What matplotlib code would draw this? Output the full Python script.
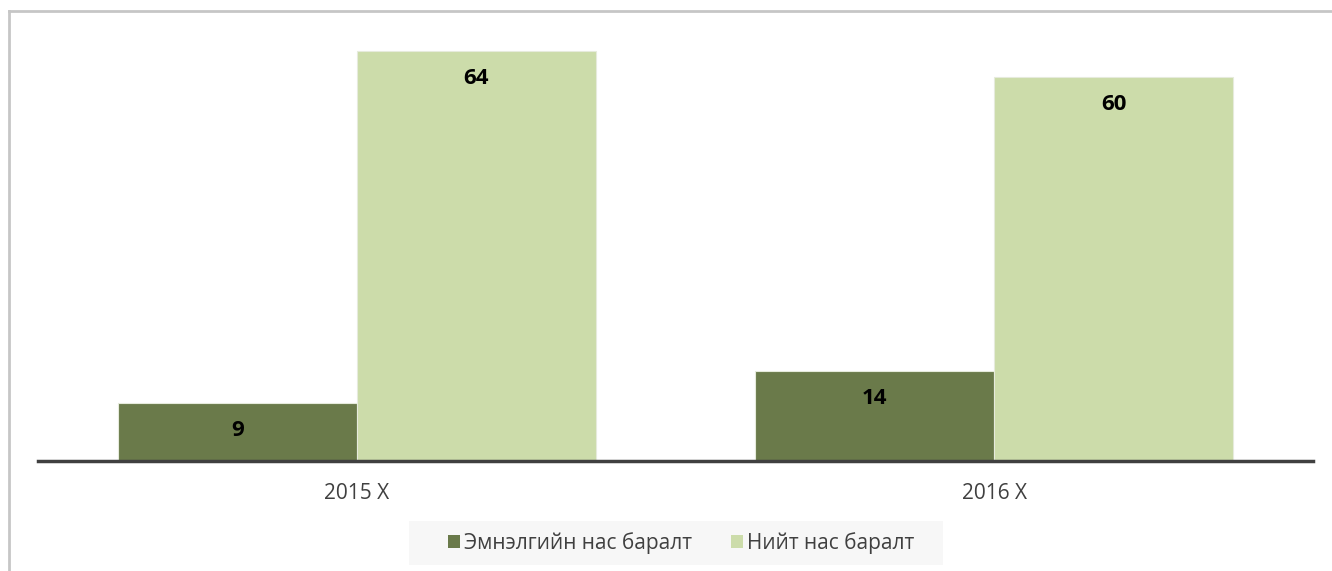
import matplotlib
matplotlib.use("Agg")
import matplotlib.pyplot as plt
from matplotlib.lines import Line2D
from matplotlib.patches import Patch, Rectangle

categories = ["2015 X", "2016 X"]
series_names = ["Эмнэлгийн нас баралт", "Нийт нас баралт"]
hospital = [9, 14]
total = [64, 60]
colors = ["#6a7a4a", "#ccdcaa"]

W, H, DPI = 1332, 571, 100
fig = plt.figure(figsize=(W / DPI, H / DPI), dpi=DPI)
fig.patch.set_facecolor("white")

# outer frame (light grey)
fig.add_artist(Line2D([9 / W, 9 / W], [0, 1 - 11 / H], transform=fig.transFigure, color="#c6c6c6", lw=2))
fig.add_artist(Line2D([9 / W, 1], [1 - 11 / H, 1 - 11 / H], transform=fig.transFigure, color="#c6c6c6", lw=2))

left, right = 38 / W, 1313 / W
bottom, top = 1 - 461 / H, 1 - 13 / H
ax = fig.add_axes([left, bottom, right - left, top - bottom])

x = list(range(len(categories)))
bw = 0.375
b1 = ax.bar([i - bw / 2 for i in x], hospital, width=bw, color=colors[0], edgecolor="#e6ebdc", linewidth=0.8, label=series_names[0])
b2 = ax.bar([i + bw / 2 for i in x], total, width=bw, color=colors[1], edgecolor="#e6ebdc", linewidth=0.8, label=series_names[1])

for bars, vals in ((b1, hospital), (b2, total)):
    for rect, v in zip(bars, vals):
        ax.annotate(str(v), (rect.get_x() + rect.get_width() / 2, v),
                    xytext=(0, -27 * 72 / DPI), textcoords="offset points",
                    ha="center", va="center", fontsize=16, fontweight="bold",
                    family="Open Sans", color="black")

ax.set_xlim(-0.5, 1.5)
ax.set_ylim(0, 70)
ax.set_xticks(x)
ax.set_xticklabels(categories, fontsize=15, family="Open Sans", color="#404040")
ax.tick_params(axis="x", length=0, pad=16)
ax.set_yticks([])
for s in ("top", "right", "left"):
    ax.spines[s].set_visible(False)
ax.spines["bottom"].set_color("#404040")
ax.spines["bottom"].set_linewidth(2.5)

# legend background box
fig.add_artist(Rectangle((409 / W, 1 - 565 / H), 534 / W, 44 / H, transform=fig.transFigure,
                         facecolor="#f7f7f7", edgecolor="none", zorder=0))

handles = [Patch(facecolor=colors[0], edgecolor="none"), Patch(facecolor=colors[1], edgecolor="none")]
leg = fig.legend(handles, series_names, loc="center left", bbox_to_anchor=(448 / W, 1 - 543 / H),
                 ncol=2, frameon=False,
                 prop={"family": "Open Sans", "size": 15},
                 handlelength=0.58, handleheight=0.58, handletextpad=0.2, columnspacing=1.85,
                 borderpad=0, borderaxespad=0)
for t in leg.get_texts():
    t.set_color("#404040")

fig.savefig("out.png", dpi=DPI)
